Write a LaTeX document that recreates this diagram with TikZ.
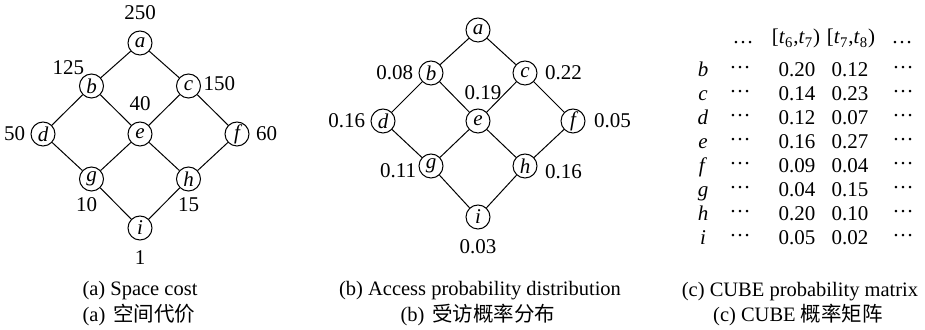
\documentclass[tikz,border=0pt]{standalone}
\usepackage{fontspec}
\setmainfont{Liberation Serif}
\newfontfamily\cjkfont{Noto Sans CJK SC}
\usetikzlibrary{positioning}

\newcommand{\figfont}{\fontsize{10.5}{12.6}\selectfont}
\newcommand{\rdots}{\raisebox{4pt}{\ldots}}

\tikzset{
  vtx/.style={draw,circle,inner sep=0pt,minimum size=12pt,font=\figfont\itshape},
  lab/.style={inner sep=1pt},
  cell/.style={inner sep=0pt,anchor=base},
  captxt/.style={inner sep=0pt,anchor=base,font=\fontsize{10.25}{12}\selectfont}
}

\begin{document}
\begin{tikzpicture}[x=0.5pt,y=-0.5pt,font=\figfont,line width=0.5pt]
\useasboundingbox (0,0) rectangle (925,330);
% (a) space cost
\node[vtx] (sa) at (140,43) {a};
\node[vtx] (sb) at (91.5,86) {b};
\node[vtx] (sc) at (188.5,86) {c};
\node[vtx] (sd) at (43,134) {d};
\node[vtx] (se) at (140,134) {e};
\node[vtx] (sf) at (237,134) {f};
\node[vtx] (sg) at (91.5,179) {g};
\node[vtx] (sh) at (188.5,179) {h};
\node[vtx] (si) at (140,228) {i};
\foreach \u/\v in {a/b,a/c,b/d,b/e,c/e,c/f,d/g,e/g,e/h,f/h,g/i,h/i}
  \draw (s\u) -- (s\v);
\node[lab,above=4pt of sa] (sal) {250};
\node[lab,anchor=south east,xshift=2pt] (sbl) at (sb.north west) {125};
\node[lab,right=0pt of sc,yshift=1pt] (scl) {150};
\node[lab,above=4pt of se] (sel) {40};
\node[lab,left=1.5pt of sd] (sdl) {50};
\node[lab,right=2pt of sf] (sfl) {60};
\node[lab,below=2pt of sg,xshift=-2.5pt] (sgl) {10};
\node[lab,below=2pt of sh] (shl) {15};
\node[lab,below=4pt of si] (sil) {1};
% (b) access probability
\node[vtx] (pa) at (478,30) {a};
\node[vtx] (pb) at (431,73) {b};
\node[vtx] (pc) at (525,73) {c};
\node[vtx] (pd) at (383,121) {d};
\node[vtx] (pe) at (478,121) {e};
\node[vtx] (pf) at (573,121) {f};
\node[vtx] (pg) at (431,166) {g};
\node[vtx] (ph) at (525,166) {h};
\node[vtx] (pi) at (478,217) {i};
\foreach \u/\v in {a/b,a/c,b/d,b/e,c/e,c/f,d/g,e/g,e/h,f/h,g/i,h/i}
  \draw (p\u) -- (p\v);
\node[lab,left=1.5pt of pb] (pbl) {0.08};
\node[lab,right=2.5pt of pc] (pcl) {0.22};
\node[lab,left=1.5pt of pd] (pdl) {0.16};
\node[lab,above=3pt of pe,xshift=2.5pt] (pel) {0.19};
\node[lab,right=3pt of pf] (pfl) {0.05};
\node[lab,left=0pt of pg,yshift=-2.5pt] (pgl) {0.11};
\node[lab,right=2.5pt of ph,yshift=-3pt] (phl) {0.16};
\node[lab,below=4pt of pi] (pil) {0.03};
% (c) probability matrix
\node[cell] (hdl) at (743,44) {\ldots};
\node[cell] (hd6) at (796,44) {[\textit{t}\textsubscript{6},\textit{t}\textsubscript{7})};
\node[cell] (hd7) at (851,44) {[\textit{t}\textsubscript{7},\textit{t}\textsubscript{8})};
\node[cell] (hdr) at (902,44) {\ldots};
\foreach \row/\y/\p/\q in {b/77/0.20/0.12,c/101/0.14/0.23,d/125/0.12/0.07,e/149/0.16/0.27,
    f/173/0.09/0.04,g/197/0.04/0.15,h/221/0.20/0.10,i/245/0.05/0.02}{
  \node[cell] (\row-n) at (703,\y) {\textit{\row}};
  \node[cell] (\row-l) at (740,\y) {\rdots};
  \node[cell] (\row-p) at (797,\y) {\p};
  \node[cell] (\row-q) at (850,\y) {\q};
  \node[cell] (\row-r) at (903,\y) {\rdots};
}
% captions
\node[captxt] (capa) at (140,296) {(a) Space cost};
\node[captxt] (capa2) at (139,322) {(a)\hspace{4pt}{\cjkfont 空间代价}};
\node[captxt] (capb) at (480,296) {(b) Access probability distribution};
\node[captxt] (capb2) at (478,322) {(b)\hspace{4pt}{\cjkfont 受访概率分布}};
\node[captxt] (capc) at (800,297) {(c) CUBE probability matrix};
\node[captxt] (capc2) at (798,322) {(c) CUBE {\cjkfont 概率矩阵}};
\end{tikzpicture}
\end{document}
